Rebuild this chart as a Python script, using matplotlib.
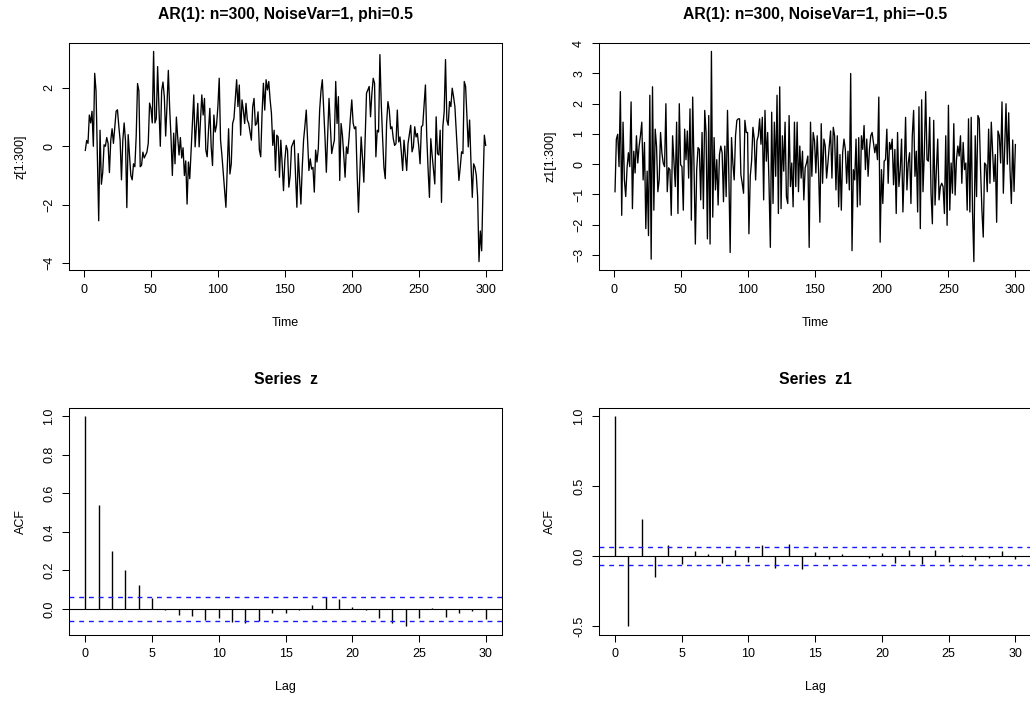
import numpy as np
import matplotlib
matplotlib.use("Agg")
import matplotlib.pyplot as plt

plt.rcParams['font.family'] = ['Liberation Sans', 'DejaVu Sans']

# AR(1) phi=0.5, first 300 values
z = [
    -0.14, 0.2, 0.1, 1.07, 0.8, 1.2, 0.0, 2.5, 1.9, -0.3,
    -2.55, 0.55, -1.3, -0.9, 0.05, 0.0, 0.3, 0.1, -0.9, 0.2,
    0.6, 0.1, 0.65, 1.2, 1.25, 0.7, 0.2, -1.15, 0.2, 0.8,
    0.2, -2.1, 0.4, -0.3, -1.0, -1.15, -0.6, -0.7, 0.35, 2.15,
    1.9, -0.7, -0.65, -0.2, -0.4, -0.3, -0.2, 0.1, 1.48, 1.3,
    0.8, 3.25, 0.8, 0.95, 2.73, 1.3, 0.0, 1.9, 2.2, 1.7,
    0.35, 1.4, 2.6, 1.3, 0.3, -1.0, 0.45, -0.6, 1.0, 0.3,
    -0.3, 0.3, -0.4, -0.05, -1.0, -0.5,
    -1.98, -0.54, -1.11, -0.13, 0.8, 1.76, -0.02, 0.7, 1.47, -0.02,
    0.9, 1.76, 1.07, 1.64, -0.13, -0.36, 0.55, 1.3, -0.02, -0.66,
    1.07, 0.49, 0.72, 1.36, 2.33, 0.21, -0.3, -0.9, -1.52, -2.09,
    -0.78, 0.6, -0.95, -0.6, 0.78, 0.95, 1.6, 2.28, 1.36, 2.1,
    0.38, 1.59, 1.24, 0.78, 1.47, 0.9, 0.78, 0.5, 0.21, 1.36,
    1.64, 0.72, 0.78, 1.18, -0.13, -0.36, 1.13, 2.16, 1.24, 2.28,
    1.93, 2.22, 1.6, 1.13, 0.03, 0.55, -0.83, 0.38, 0.32, -1.06,
    0.21, -0.6, -1.52, -0.48, 0.03, -0.13, -1.4,
    -1.0, -0.02, 0.1, 0.21, -1.0, -2.09, -0.25, -1.1, -1.98, -0.72,
    0.21, 0.7, 1.24, 0.2, -0.83, -0.43, -0.78, -0.72, -1.57, -0.13,
    -0.54, -0.08, 1.24, 1.9, 2.28, 1.3, 0.3, -0.89, 0.4, 1.64,
    0.7, -0.25, 0.0, 0.21, 2.22, 0.78, 1.7, -1.17, 0.78, 0.38,
    -0.3, -1.06, -0.02, -0.25, 0.32, 1.0, 1.59, 0.8, 0.6, 0.67,
    -0.95, -2.26, -1.0, 0.32, -0.4, -1.23, 0.3, 1.82, 1.93, 2.05,
    1.01, 1.8, 2.33, 2.16, -0.36, 0.55, 0.49, 3.14, 1.47, 0.3,
    -0.72, -1.11, 0.78, 1.53,
    1.24, 0.6, 0.67, 0.26, 0.03, 0.09, 1.24, 0.15, 0.32, -0.2,
    -0.83, 0.21, -0.3, -0.83, 0.09, 0.4, 0.72, -0.19, -0.02, 0.67,
    0.32, 0.44, 0.0, -0.6, 0.67, 0.72, 1.4, 2.1, 0.32, -0.8,
    -1.75, 0.26, -0.3, -0.8, -1.29, 1.01, -0.25, -0.3, 0.55, -1.92,
    0.67, 1.18, 2.97, 0.9, 0.72, 1.53, 1.36, 1.99, 1.7, 1.36,
    0.55, -0.3, -1.17, -0.72, -0.19, -0.25, 2.22, 2.05, 1.0, -0.02,
    0.9, -0.54, -1.75, -0.6, -0.72, -1.0, -1.75, -3.95, -2.9, -3.58,
    -1.4, 0.38, 0.03,
]

# AR(1) phi=-0.5, first 300 values
z1 = [
    -0.91, 0.83, 0.99, -0.08, 2.4, -1.69, 1.39, -0.52, -1.07, -0.12,
    0.38, -0.08, 2.06, -1.47, 0.43, -0.29, 0.94, 0.04, 0.6, 0.94,
    1.39, -0.52, 0.72, -2.13, -0.23, -2.36, 2.28, -3.14, 2.56, -1.52,
    1.16, 0.6, -0.91, -0.52, 1.05, 0.38, 0.04, -0.08, 2.0, -0.91,
    -0.12, -0.18, -1.69, 0.94, 0.1, -0.74, 1.39, -1.63, 2.0, -0.02,
    -0.08, -1.52, 1.16, 0.15, 1.1, -0.46, 1.83, -1.85, 2.22, -0.08,
    -2.64, -0.18, 0.55, 0.49, -1.18, 1.05, -1.47, 1.78, 1.05, -2.47,
    1.61,
    -2.64, 3.73, -1.75, 0.88, -0.85, 0.15, -1.35, 0.32, 0.6, 0.38,
    -1.24, 0.6, -1.07, 1.78, -0.35, -2.92, 0.88, 0.04, -0.52, 0.94,
    1.45, 1.5, 1.5, -0.35, -0.63, -0.96, 1.45, 1.05, 1.05, -2.3,
    -0.4, 0.1, 1.22, 0.83, -0.52, 0.77, 0.94, 1.5, 0.66, 1.55,
    -1.18, 1.78, 0.1, 1.05, -0.63, -2.75, 1.72, -1.3, 1.39, -0.4,
    2.28, -1.63, 2.56, -1.47, 0.94, -0.23, 1.39, -1.07, -1.3, 1.61,
    -0.74, 0.04, -1.41, 1.39, -0.74, 1.39, -0.91, 0.6, -0.46, 0.43,
    -1.18, -0.12, 0.04, 0.27, -2.75,
    1.39, -0.4, 1.05, 0.77, -0.29, 0.94, -0.18, -1.92, 1.34, -0.63,
    0.83, 0.6, -0.46, 0.04, 0.6, 1.1, -0.46, 1.22, 0.94, -0.85,
    0.94, -1.41, 0.32, -1.52, 0.38, 0.83, 0.49, -0.63, 0.43, -0.85,
    3.0, -2.86, -0.18, -0.52, 0.83, -1.41, 0.88, -1.35, 0.94, 0.49,
    1.28, -0.18, 0.83, -0.4, 0.49, 0.94, 1.05, 0.72, 0.38, 0.66,
    0.15, 2.22, -2.58, -0.18, -1.3, 0.1, 0.15, 1.16, -0.63, 0.72,
    0.49, 0.83, -0.68, 0.49, -1.63, 1.05, -0.74, -0.18, 0.83, -1.58,
    -0.18, 1.55, -0.85,
    0.04, 0.38, -1.3, 0.94, 1.78, -0.4, 0.43, -1.58, 1.9, -2.13,
    2.13, -0.91, 0.38, 2.4, 0.15, 0.1, 1.55, -0.96, -1.97, 1.45,
    -1.35, -0.18, 0.83, -1.18, -0.74, -0.63, -0.74, -1.63, 0.94, -2.02,
    1.95, -1.52, 0.04, -0.96, 1.34, -1.02, 0.15, 0.6, 0.27, 0.94,
    -0.63, 0.72, -0.18, 0.04, -1.52, 1.5, -1.58, 1.55, -1.58, -3.22,
    0.94, -1.07, 1.61, 1.5, -0.18, -1.52, -2.41, 0.04, -0.02, -0.91,
    1.16, -0.63, 1.39, 0.43, -0.57, 0.32, -1.92, 1.1, 0.94, 0.04,
    2.06, -0.96, 0.5, 2.0, 0.0, 1.7, -0.2, -1.3, 0.8, -0.9,
    0.65,
]

lags = list(range(31))
acf_z = [1.0, 0.54, 0.30, 0.20, 0.124, 0.06, -0.005, -0.03, -0.037, -0.055,
         -0.044, -0.067, -0.073, -0.064, -0.02, -0.018, -0.005, 0.021, 0.062, 0.053,
         0.012, -0.005, -0.044, -0.073, -0.088, -0.046, 0.007, -0.039, -0.02, -0.009,
         -0.053]
acf_z1 = [1.0, -0.5, 0.266, -0.152, 0.077, -0.06, 0.036, 0.012, -0.048, 0.043,
          -0.043, 0.077, -0.085, 0.089, -0.092, 0.029, -0.024, 0.014, 0.003, -0.014,
          0.024, -0.048, 0.041, -0.06, 0.043, -0.041, 0.005, -0.027, -0.017, 0.036,
          -0.019]
ci = 0.062

W, H = 1030, 705
fig = plt.figure(figsize=(W / 100, H / 100), dpi=100)


def box(x0, y0, x1, y1):
    return fig.add_axes([x0 / W, 1 - y1 / H, (x1 - x0) / W, (y1 - y0) / H])


def rstyle(ax):
    for s in ax.spines.values():
        s.set_linewidth(0.75)
    ax.tick_params(direction='out', length=5, width=0.75, labelsize=9, pad=5)
    for lbl in ax.get_yticklabels():
        lbl.set_rotation(90)
        lbl.set_va('center')


def rlim(lo, hi):
    d = 0.04 * (hi - lo)
    return lo - d, hi + d


panels = [
    (box(69.3, 43, 501.7, 270), z, 'z[1:300]', 'AR(1): n=300, NoiseVar=1, phi=0.5', [-4, -2, 0, 2]),
    (box(599, 43, 1031.4, 270), z1, 'z1[1:300]', 'AR(1): n=300, NoiseVar=1, phi=\u22120.5', list(range(-3, 5))),
]
for ax, y, ylab, title, yt in panels:
    t = np.arange(1, len(y) + 1)
    ax.plot(t, y, color='black', lw=0.95)
    ax.set_xlim(*rlim(1, len(y)))
    ax.set_ylim(*rlim(min(y), max(y)))
    ax.set_xticks([0, 50, 100, 150, 200, 250, 300])
    ax.set_yticks(yt)
    ax.set_xlabel('Time', fontsize=9, labelpad=15)
    ax.set_ylabel(ylab, fontsize=9, labelpad=12)
    ax.set_title(title, fontsize=11.3, fontweight='bold', pad=17)
    rstyle(ax)

acf_panels = [
    (box(69.3, 407.5, 501.7, 634.5), acf_z, 'Series  z', [0, 0.2, 0.4, 0.6, 0.8, 1.0]),
    (box(599, 407.5, 1031.4, 634.5), acf_z1, 'Series  z1', [-0.5, 0.0, 0.5, 1.0]),
]
for ax, a, title, yt in acf_panels:
    ax.vlines(lags, 0, a, color='black', lw=1.0)
    ax.axhline(0, color='black', lw=0.8)
    for c in (ci, -ci):
        ax.axhline(c, color='#1a1aff', lw=1.0, linestyle=(0, (3.5, 3.5)))
    ax.set_xlim(*rlim(0, lags[-1]))
    ax.set_ylim(*rlim(min(min(a), -ci), max(a)))
    ax.set_xticks([0, 5, 10, 15, 20, 25, 30])
    ax.set_yticks(yt)
    ax.set_yticklabels([f'{v:.1f}' for v in yt])
    ax.set_xlabel('Lag', fontsize=9, labelpad=15)
    ax.set_ylabel('ACF', fontsize=9, labelpad=12)
    ax.set_title(title, fontsize=11.3, fontweight='bold', pad=17)
    rstyle(ax)

fig.savefig('out.png', dpi=100)
